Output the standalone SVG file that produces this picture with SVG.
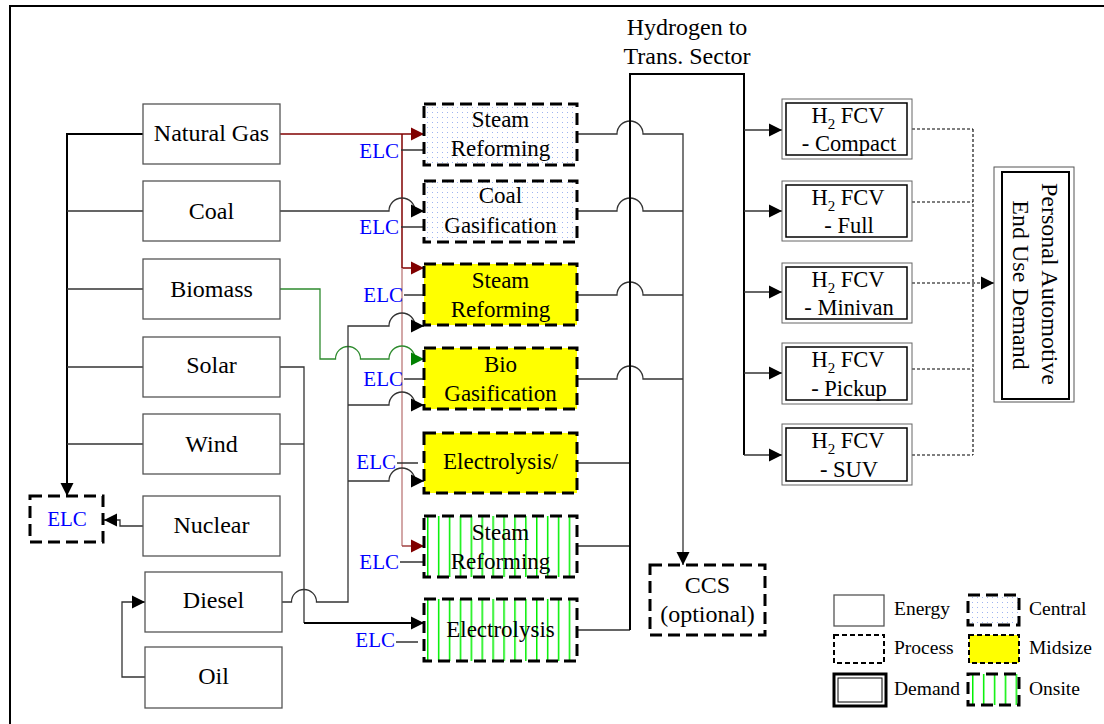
<svg xmlns="http://www.w3.org/2000/svg" width="1104" height="724" viewBox="0 0 1104 724">
<defs>
<style>
text{font-family:"Liberation Serif","Times New Roman",serif;fill:#000}
.en rect{fill:#fff;stroke:#555;stroke-width:1.3}
.en text{font-size:24px;text-anchor:middle}
.pr text{font-size:23px;text-anchor:middle}
.proc{stroke:#000;stroke-width:3;stroke-dasharray:12 6}
.pr text.elc{fill:#0000ff;font-size:21px;text-anchor:end}
.c{fill:none;stroke:#333;stroke-width:1.3}
.k2{stroke-width:2;stroke:#000}
.red{fill:none;stroke:#800000;stroke-width:1.5}
.grn{fill:none;stroke:#2e8b2e;stroke-width:1.3}
.dot{fill:none;stroke:#000;stroke-width:1.1;stroke-dasharray:3 2}
.fcv .o{fill:#fff;stroke:#666;stroke-width:1}
.fcv .i{fill:none;stroke:#000;stroke-width:1.5}
.fcv text{font-size:22.5px;text-anchor:middle}
.big{font-size:24px;text-anchor:middle}
.lg{font-size:19.5px}
</style>
<pattern id="dots" width="5" height="5" patternUnits="userSpaceOnUse"><rect width="5" height="5" fill="#fff"/><rect x="2" y="2" width="1" height="1" fill="#9fb4f0"/></pattern>
<pattern id="vl" x="427" y="0" width="10.9" height="10" patternUnits="userSpaceOnUse"><rect width="10.9" height="10" fill="#fff"/><rect x="0" y="0" width="1.5" height="10" fill="#00f000"/></pattern>
<marker id="ak" markerUnits="userSpaceOnUse" markerWidth="14" markerHeight="14" refX="13" refY="7" orient="auto"><path d="M0,0.5L13,7L0,13.5z" fill="#000"/></marker>
<marker id="ar" markerUnits="userSpaceOnUse" markerWidth="14" markerHeight="14" refX="13" refY="7" orient="auto"><path d="M0,0.5L13,7L0,13.5z" fill="#800000"/></marker>
<marker id="ag" markerUnits="userSpaceOnUse" markerWidth="14" markerHeight="14" refX="13" refY="7" orient="auto"><path d="M0,0.5L13,7L0,13.5z" fill="#008000"/></marker>
</defs>
<rect width="1104" height="724" fill="#fff"/>
<path d="M10,724V6H1104" fill="none" stroke="#000" stroke-width="2"/>

<g id="connectors">
<path class="c k2" d="M143,134H67V496" marker-end="url(#ak)"/>
<path class="c" d="M143,211H67M143,289H67M143,367H67M143,444H67"/>
<path class="c" d="M143,526H120V520H104" marker-end="url(#ak)"/>
<path class="c" d="M145,677H122V602H145" marker-end="url(#ak)"/>
<path class="red" d="M280,134H424" marker-end="url(#ar)"/>
<path class="red" d="M402,134V268"/>
<path class="red" d="M402,268H424" marker-end="url(#ar)"/>
<path fill="none" stroke="#c48a8a" stroke-width="1.5" d="M402,268V546"/>
<path fill="none" stroke="#a04040" stroke-width="1.5" d="M402,546H424" marker-end="url(#ar)"/>
<path class="c" d="M280,211H389A13,13 0 0 1 415,211H424" marker-end="url(#ak)"/>
<path class="grn" d="M280,289H320V359H335.5A12.5,12.5 0 0 1 360.5,359H389A13,13 0 0 1 415,359H424" marker-end="url(#ag)"/>
<path class="c" d="M280,367H304V623"/>
<path class="c k2" d="M304,623H424" marker-end="url(#ak)"/>
<path class="c" d="M280,444H304"/>
<path class="c" d="M282,602H291.5A12.5,12.5 0 0 1 316.5,602H348V326H389A13,13 0 0 1 415,326H424" marker-end="url(#ak)"/>
<path class="c" d="M348,405H389A13,13 0 0 1 415,405H424" marker-end="url(#ak)"/>
<path class="c" d="M348,481H389A13,13 0 0 1 415,481H424" marker-end="url(#ak)"/>
<path class="c" d="M401,150H424M401,227H424M404,295H424M404,379H424M397,463H418M400,562H424M396,642H418"/>
<path class="c" d="M577,134H617A13,13 0 0 1 643,134H683V565" marker-end="url(#ak)"/>
<path class="c" d="M577,211H617A13,13 0 0 1 643,211H683M577,295H617A13,13 0 0 1 643,295H683M577,379H617A13,13 0 0 1 643,379H683M577,463H630M577,546H630M577,630H630"/>
<path class="c k2" d="M630,630V74H744V455"/>
<path class="c" d="M744,455H782" marker-end="url(#ak)"/>
<path class="c" d="M744,130H782" marker-end="url(#ak)"/>
<path class="c" d="M744,211H782" marker-end="url(#ak)"/>
<path class="c" d="M744,292H782" marker-end="url(#ak)"/>
<path class="c" d="M744,373H782" marker-end="url(#ak)"/>
<path class="dot" d="M912,129H973M912,202H973M912,369H973M912,455H973M973,129V455"/>
<path class="dot" d="M912,283H994" marker-end="url(#ak)"/>
</g>

<g id="natural-gas" class="en"><rect x="143" y="104" width="137" height="60"/><text x="211.5" y="141">Natural Gas</text></g>
<g id="coal" class="en"><rect x="143" y="181" width="137" height="60"/><text x="211.5" y="219">Coal</text></g>
<g id="biomass" class="en"><rect x="143" y="259" width="137" height="60"/><text x="211.5" y="297">Biomass</text></g>
<g id="solar" class="en"><rect x="143" y="337" width="137" height="60"/><text x="211.5" y="373">Solar</text></g>
<g id="wind" class="en"><rect x="143" y="414" width="137" height="60"/><text x="211.5" y="452">Wind</text></g>
<g id="nuclear" class="en"><rect x="143" y="496" width="137" height="60"/><text x="211.5" y="533">Nuclear</text></g>
<g id="diesel" class="en"><rect x="145" y="572" width="137" height="60"/><text x="213.5" y="608">Diesel</text></g>
<g id="oil" class="en"><rect x="145" y="647" width="137" height="61"/><text x="213.5" y="684">Oil</text></g>

<g id="elc-node"><rect x="30" y="496" width="73" height="46" fill="#fff" class="proc"/><text x="67" y="526" style="fill:#0000ff;font-size:21px;text-anchor:middle">ELC</text></g>

<g id="central-steam-reforming" class="pr"><rect x="424" y="104" width="153" height="61" fill="url(#dots)" class="proc"/><text x="500.5" y="127">Steam</text><text x="500.5" y="156">Reforming</text><text class="elc" x="399" y="158">ELC</text></g>
<g id="coal-gasification" class="pr"><rect x="424" y="181" width="153" height="61" fill="url(#dots)" class="proc"/><text x="500.5" y="203">Coal</text><text x="500.5" y="233">Gasification</text><text class="elc" x="399" y="234">ELC</text></g>
<g id="midsize-steam-reforming" class="pr"><rect x="424" y="264" width="153" height="61" fill="#ffff00" class="proc"/><text x="500.5" y="288">Steam</text><text x="500.5" y="317">Reforming</text><text class="elc" x="403" y="302">ELC</text></g>
<g id="bio-gasification" class="pr"><rect x="424" y="348" width="153" height="61" fill="#ffff00" class="proc"/><text x="500.5" y="372">Bio</text><text x="500.5" y="401">Gasification</text><text class="elc" x="403" y="386">ELC</text></g>
<g id="midsize-electrolysis" class="pr"><rect x="424" y="433" width="153" height="60" fill="#ffff00" class="proc"/><text x="500.5" y="469">Electrolysis/</text><text class="elc" x="396" y="469">ELC</text></g>
<g id="onsite-steam-reforming" class="pr"><rect x="424" y="516" width="153" height="61" fill="url(#vl)" class="proc"/><text x="500.5" y="540">Steam</text><text x="500.5" y="569">Reforming</text><text class="elc" x="399" y="569">ELC</text></g>
<g id="onsite-electrolysis" class="pr"><rect x="424" y="599" width="153" height="62" fill="url(#vl)" class="proc"/><text x="500.5" y="637">Electrolysis</text><text class="elc" x="395" y="647">ELC</text></g>

<g id="hydrogen-label"><text class="big" x="687" y="35">Hydrogen to</text><text class="big" x="687" y="64">Trans. Sector</text></g>

<g id="ccs"><rect x="650" y="565" width="115" height="70" fill="#fff" class="proc"/><text class="big" x="707.5" y="593">CCS</text><text class="big" x="707.5" y="622">(optional)</text></g>

<g id="fcv-compact" class="fcv"><rect class="o" x="782" y="99" width="130" height="60"/><rect class="i" x="786" y="103" width="121" height="52"/><text x="848" y="123">H<tspan font-size="15" dy="6">2</tspan><tspan dy="-6"> FCV</tspan></text><text x="849" y="151">- Compact</text></g>
<g id="fcv-full" class="fcv"><rect class="o" x="782" y="181" width="130" height="60"/><rect class="i" x="786" y="185" width="121" height="52"/><text x="848" y="205">H<tspan font-size="15" dy="6">2</tspan><tspan dy="-6"> FCV</tspan></text><text x="849" y="233">- Full</text></g>
<g id="fcv-minivan" class="fcv"><rect class="o" x="782" y="263" width="130" height="60"/><rect class="i" x="786" y="267" width="121" height="52"/><text x="848" y="287">H<tspan font-size="15" dy="6">2</tspan><tspan dy="-6"> FCV</tspan></text><text x="849" y="315">- Minivan</text></g>
<g id="fcv-pickup" class="fcv"><rect class="o" x="782" y="343" width="130" height="61"/><rect class="i" x="786" y="347" width="121" height="53"/><text x="848" y="367">H<tspan font-size="15" dy="6">2</tspan><tspan dy="-6"> FCV</tspan></text><text x="849" y="396">- Pickup</text></g>
<g id="fcv-suv" class="fcv"><rect class="o" x="782" y="424" width="130" height="61"/><rect class="i" x="786" y="428" width="121" height="53"/><text x="848" y="448">H<tspan font-size="15" dy="6">2</tspan><tspan dy="-6"> FCV</tspan></text><text x="849" y="477">- SUV</text></g>

<g id="demand"><rect x="994" y="167" width="80" height="235" fill="#fff" stroke="#555" stroke-width="1"/><rect x="1002" y="172" width="67" height="227" fill="none" stroke="#000" stroke-width="2"/><text class="big" transform="translate(1042,284) rotate(90)">Personal Automotive</text><text class="big" transform="translate(1013,285) rotate(90)">End Use Demand</text></g>

<g id="legend">
<rect x="834" y="595" width="50" height="31" fill="#fff" stroke="#555" stroke-width="1.3"/>
<text class="lg" x="894" y="615">Energy</text>
<rect x="834" y="635" width="50" height="28" fill="#fff" stroke="#000" stroke-width="2" stroke-dasharray="5 3"/>
<text class="lg" x="894" y="654">Process</text>
<rect x="834" y="674" width="52" height="32" fill="#fff" stroke="#000" stroke-width="3"/>
<rect x="838" y="678" width="44" height="24" fill="none" stroke="#000" stroke-width="1"/>
<text class="lg" x="894" y="695">Demand</text>
<rect x="968" y="595" width="51" height="30" fill="url(#dots)" class="proc"/>
<text class="lg" x="1029" y="615">Central</text>
<rect x="969" y="635" width="50" height="28" fill="#ffff00" stroke="#000" stroke-width="2" stroke-dasharray="5 3"/>
<text class="lg" x="1029" y="654">Midsize</text>
<rect x="968" y="674" width="51" height="31" fill="url(#vl)" class="proc"/>
<text class="lg" x="1029" y="695">Onsite</text>
</g>
</svg>
